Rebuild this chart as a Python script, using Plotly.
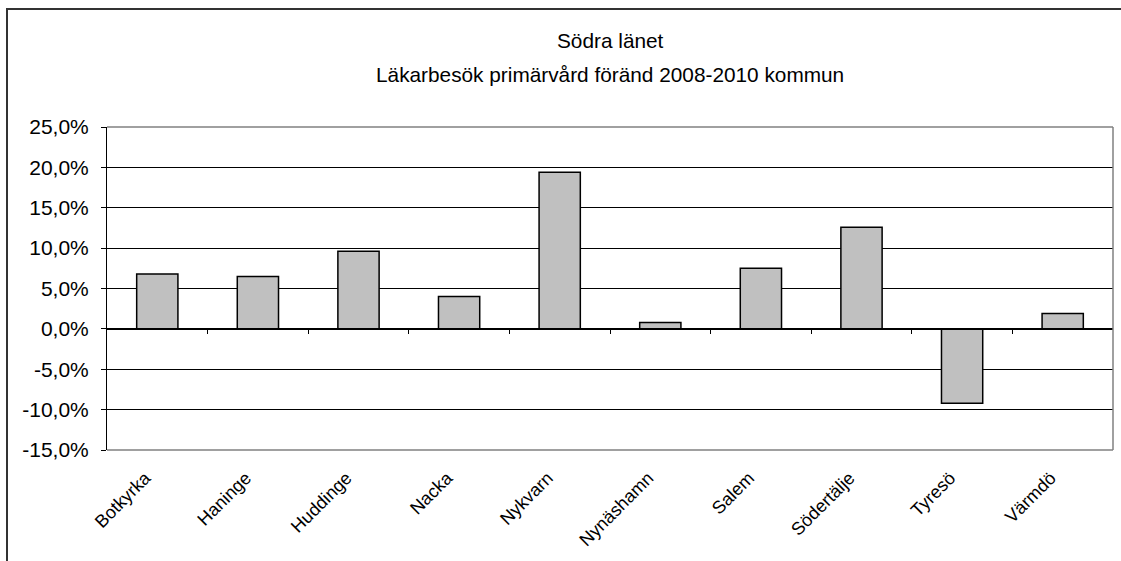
import plotly.graph_objects as go

categories = ["Botkyrka", "Haninge", "Huddinge", "Nacka", "Nykvarn", "Nynäshamn",
              "Salem", "Södertälje", "Tyresö", "Värmdö"]
values = [6.8, 6.5, 9.6, 4.0, 19.4, 0.8, 7.5, 12.6, -9.2, 1.9]
y_ticks = [-15, -10, -5, 0, 5, 10, 15, 20, 25]
y_ticktext = [("%.1f%%" % v).replace(".", ",") for v in y_ticks]
title_lines = ["Södra länet", "Läkarbesök primärvård föränd 2008-2010 kommun"]

FONT = "Liberation Sans, Arial, sans-serif"
n = len(categories)
boundaries = [i + 0.5 for i in range(n - 1)]

fig = go.Figure()
fig.add_trace(go.Bar(
    x=categories, y=values,
    marker=dict(color="#c0c0c0", line=dict(color="#000000", width=1.5)),
    width=0.41, hoverinfo="x+y",
))
fig.add_trace(go.Scatter(
    x=list(range(n)), y=values, xaxis="x2", mode="markers",
    marker=dict(opacity=0), hoverinfo="skip", showlegend=False,
))

ymin, ymax = y_ticks[0], y_ticks[-1]
zero_pos = (0 - ymin) / (ymax - ymin)

PLOT_TOP, PLOT_H = 127, 323
def py(pix):
    return (PLOT_TOP + PLOT_H - pix) / PLOT_H

annotations = [
    dict(text=title_lines[0], x=0.5, xref="paper", y=py(40), yref="paper",
         yanchor="middle", showarrow=False, font=dict(family=FONT, size=20.8, color="#000000")),
    dict(text=title_lines[1], x=0.5, xref="paper", y=py(75), yref="paper",
         yanchor="middle", showarrow=False, font=dict(family=FONT, size=20.8, color="#000000")),
]

fig.update_layout(
    width=1121, height=561,
    margin=dict(l=107, r=8, t=127, b=111),
    paper_bgcolor="white", plot_bgcolor="white",
    showlegend=False,
    font=dict(family=FONT, color="#000000"),
    annotations=annotations,
    xaxis=dict(type="category", showgrid=False, showline=False, ticks="",
               tickangle=-45, tickfont=dict(size=18, family=FONT),
               ticklabelstandoff=13, ticklabelshift=-12,
               range=[-0.5, n - 0.5]),
    xaxis2=dict(overlaying="x", anchor="free", position=zero_pos, side="bottom",
                range=[-0.5, n - 0.5], showgrid=False, zeroline=False,
                showline=True, linecolor="#000000", linewidth=1,
                tickmode="array", tickvals=boundaries, ticks="outside",
                ticklen=4, tickcolor="#000000", showticklabels=False),
    yaxis=dict(range=[ymin, ymax], tickmode="array", tickvals=y_ticks, ticktext=y_ticktext,
               showgrid=True, gridcolor="#000000", gridwidth=1,
               zeroline=False, showline=True, linecolor="#000000", linewidth=1,
               ticks="outside", ticklen=5, tickcolor="#000000",
               tickfont=dict(size=21, family=FONT), ticklabelstandoff=8),
    shapes=[
        dict(type="line", xref="paper", yref="paper", x0=0, x1=1, y0=1, y1=1,
             line=dict(color="#808080", width=1.5), layer="above"),
        dict(type="line", xref="paper", yref="paper", x0=0, x1=1, y0=0, y1=0,
             line=dict(color="#808080", width=1.5), layer="above"),
        dict(type="line", xref="paper", yref="paper", x0=1, x1=1, y0=0, y1=1,
             line=dict(color="#808080", width=1.5), layer="above"),
        dict(type="rect", xref="paper", yref="paper",
             x0=(7 - 107) / 1006, x1=(1130 - 107) / 1006,
             y0=-0.5, y1=py(9),
             line=dict(color="#333333", width=2), layer="above"),
    ],
)

fig.write_html("out.html")
